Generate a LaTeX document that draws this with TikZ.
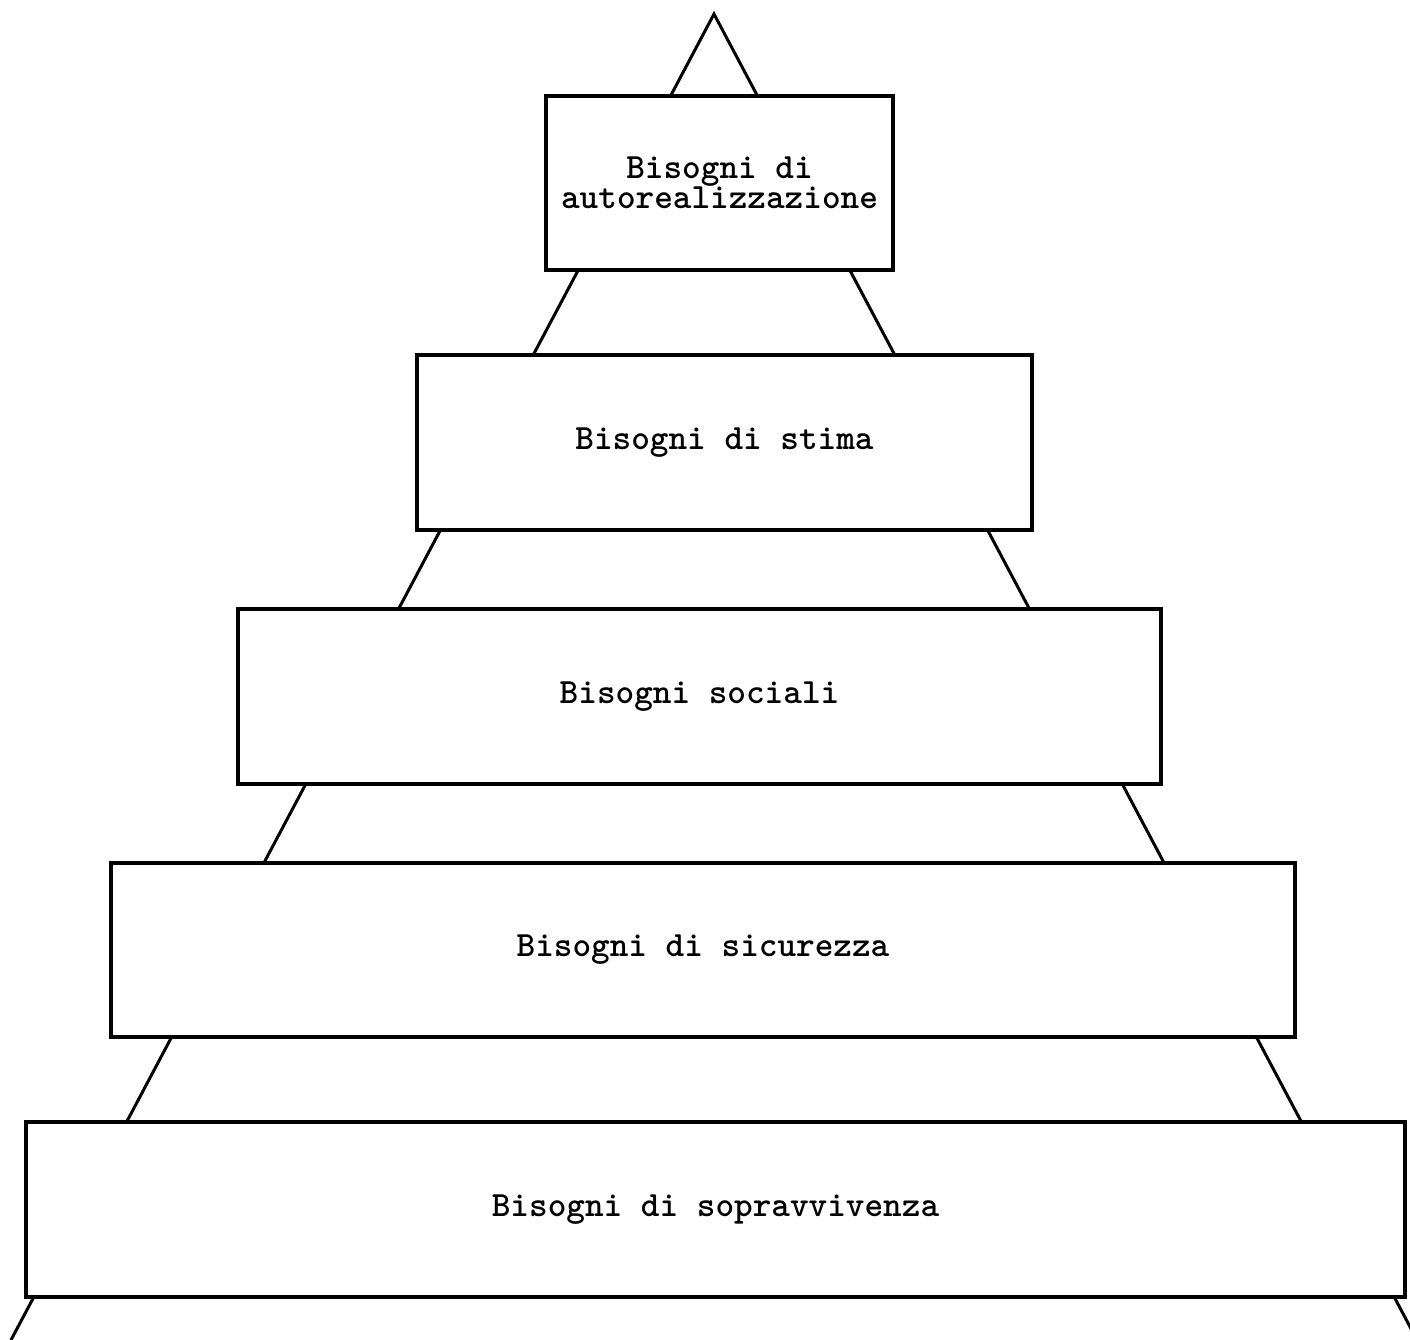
\documentclass[tikz,border=0pt]{standalone}
\usepackage{fontspec}
\begin{document}
\begin{tikzpicture}[x=1pt,y=-1pt,
  side/.style={line width=3pt,black},
  level/.style={draw=black,fill=white,line width=3.2pt,inner sep=0pt,
    align=center,font=\ttfamily\bfseries\fontsize{35.5}{30}\selectfont}]
\useasboundingbox (0,0) rectangle (1410,1340);
\fill[white] (0,0) rectangle (1410,1340);
\clip (0,0) rectangle (1410,1340);
% outline of the pyramid
\coordinate (apex) at (714,14);
\coordinate (baseL) at (11,1340);
\coordinate (baseR) at (1417,1340);
\draw[side] (baseL) -- (apex) -- (baseR);
% levels, from top to bottom
\node[level,minimum width=347pt,minimum height=174pt] (self) at (719.5,183)
  {Bisogni di\\autorealizzazione};
\node[level,minimum width=615pt,minimum height=175pt] (esteem) at (724.5,442.5)
  {Bisogni di stima};
\node[level,minimum width=923pt,minimum height=175pt] (social) at (699.5,696.5)
  {Bisogni sociali};
\node[level,minimum width=1184pt,minimum height=174pt] (safety) at (703,950)
  {Bisogni di sicurezza};
\node[level,minimum width=1379pt,minimum height=175pt] (survival) at (715.5,1209.5)
  {Bisogni di sopravvivenza};
\end{tikzpicture}
\end{document}
